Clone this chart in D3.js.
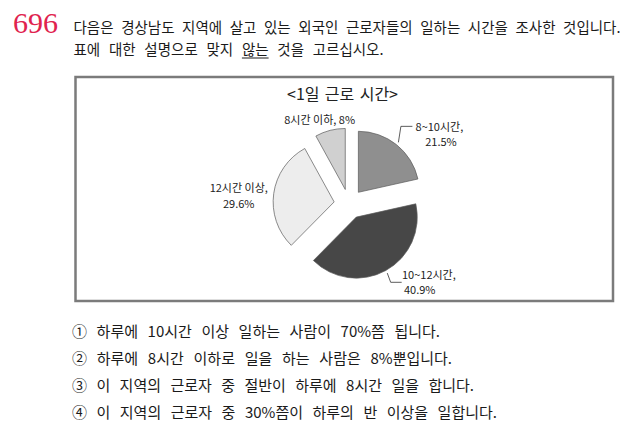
<!DOCTYPE html>
<html>
<head>
<meta charset="utf-8">
<script src="https://cdn.jsdelivr.net/npm/d3@7/dist/d3.min.js"></script>
<style>
  html, body { margin: 0; padding: 0; background: #fff; }
  svg { display: block; }
  text { font-family: "Noto Sans CJK KR", "Noto Sans", sans-serif; fill: #222; }
</style>
</head>
<body>
<script>
// ---------- data ----------
const questionNumber = "696";
const headerLines = [
  "다음은 경상남도 지역에 살고 있는 외국인 근로자들의 일하는 시간을 조사한 것입니다.",
  "표에 대한 설명으로 맞지 않는 것을 고르십시오."
];
const underlinedWord = "않는";
const chartTitle = "<1일 근로 시간>";
const categories = ["8~10시간", "10~12시간", "12시간 이상", "8시간 이하"];
const values = [21.5, 40.9, 29.6, 8];
const sliceColors = ["#8f8f8f", "#474747", "#ededed", "#d0d0d0"];
const options = [
  "① 하루에 10시간 이상 일하는 사람이 70%쯤 됩니다.",
  "② 하루에 8시간 이하로 일을 하는 사람은 8%뿐입니다.",
  "③ 이 지역의 근로자 중 절반이 하루에 8시간 일을 합니다.",
  "④ 이 지역의 근로자 중 30%쯤이 하루의 반 이상을 일합니다."
];

// ---------- layout ----------
const W = 634, H = 436;
const svg = d3.select("body").append("svg").attr("width", W).attr("height", H);
svg.append("rect").attr("width", W).attr("height", H).attr("fill", "#fff");

function fitWidth(sel, target) {
  const node = sel.node();
  const txt = node.textContent;
  const nSpaces = (txt.match(/ /g) || []).length;
  const natural = node.getComputedTextLength();
  if (nSpaces > 0) sel.attr("word-spacing", (target - natural) / nSpaces);
  const got = node.getComputedTextLength();
  if (Math.abs(got - target) > 2) {
    sel.attr("word-spacing", null).attr("textLength", target).attr("lengthAdjust", "spacing");
  }
}

// question number
svg.append("text")
  .attr("x", 13).attr("y", 33.3)
  .style("font-family", "'Liberation Serif', 'DejaVu Serif', serif")
  .style("font-size", "30px")
  .style("fill", "#e0234e")
  .text(questionNumber);

// header lines
const headerY = [33, 54.5];
const headerW = [547, 310];
headerLines.forEach((line, i) => {
  const t = svg.append("text")
    .attr("x", 73.5).attr("y", headerY[i])
    .style("font-size", "14.5px")
    .style("fill", "#1a1a1a")
    .text(line);
  fitWidth(t, headerW[i]);
  const idx = line.indexOf(underlinedWord);
  if (idx >= 0) {
    const n = t.node();
    const a = n.getExtentOfChar(idx);
    const b = n.getExtentOfChar(idx + underlinedWord.length - 1);
    svg.append("line")
      .attr("x1", a.x).attr("x2", b.x + b.width)
      .attr("y1", headerY[i] + 3.5).attr("y2", headerY[i] + 3.5)
      .attr("stroke", "#1a1a1a").attr("stroke-width", 1);
  }
});

// chart box
svg.append("rect")
  .attr("x", 75.5).attr("y", 77).attr("width", 537.5).attr("height", 224)
  .attr("fill", "none").attr("stroke", "#7b7b7b").attr("stroke-width", 2.5);

// chart title
const title = svg.append("text")
  .attr("x", 342.5).attr("y", 99.5)
  .attr("text-anchor", "middle")
  .style("font-size", "16px")
  .text(chartTitle);
fitWidth(title, 111);

// pie
const cx = 349, cy = 204, R = 61, explode = 15;
const pie = d3.pie().sort(null).value(d => d)(values);
const arc = d3.arc().innerRadius(0).outerRadius(R);
const mid = d => (d.startAngle + d.endAngle) / 2;
const dir = d => [Math.sin(mid(d)), -Math.cos(mid(d))];

const g = svg.append("g").attr("transform", `translate(${cx},${cy})`);
g.selectAll("path.slice").data(pie).join("path")
  .attr("class", "slice")
  .attr("transform", d => { const [ux, uy] = dir(d); return `translate(${ux * explode},${uy * explode})`; })
  .attr("d", arc)
  .attr("fill", (d, i) => sliceColors[i])
  .attr("stroke", "#5a5a5a")
  .attr("stroke-width", 0.7);

// labels (offsets relative to a point just outside each slice's arc, at mid-angle)
const labelLayout = [
  { leader: [[2.5, -16], [14, -16]], lines: [{ dx: 41, dy: -11.8, a: "middle" }, { dx: 42.6, dy: 3.3, a: "middle" }] },
  { leader: [[3.4, 9.2], [14.4, 9.2]], lines: [{ dx: 14.7, dy: 6, a: "start" }, { dx: 16.7, dy: 21.2, a: "start" }] },
  { leader: null, lines: [{ dx: -32, dy: -0.8, a: "middle" }, { dx: -32, dy: 14.4, a: "middle" }] },
  { leader: null, single: true, lines: [{ dx: -9.7, dy: -3.5, a: "middle" }] }
];
const labelArc = d3.arc().innerRadius(R + 3).outerRadius(R + 3);

pie.forEach((d, i) => {
  const [ux, uy] = dir(d);
  const c = labelArc.centroid(d);
  const px = c[0] + ux * explode, py = c[1] + uy * explode;
  const L = labelLayout[i];
  if (L.leader) {
    const pts = [[px, py]].concat(L.leader.map(o => [px + o[0], py + o[1]]));
    g.append("path")
      .attr("d", d3.line()(pts))
      .attr("fill", "none").attr("stroke", "#333").attr("stroke-width", 0.8);
  }
  const pct = values[i] + "%";
  const texts = L.single ? [categories[i] + ", " + pct] : [categories[i] + ",", pct];
  const t = g.append("text")
    .style("font-size", "11px")
    .style("fill", "#222");
  texts.forEach((s, k) => {
    t.append("tspan")
      .attr("x", px + L.lines[k].dx).attr("y", py + L.lines[k].dy)
      .attr("text-anchor", L.lines[k].a)
      .text(s);
  });
});

// answer options
const optY = [336.5, 364, 391, 418.3];
const optW = [368, 380, 402, 425];
options.forEach((s, i) => {
  const t = svg.append("text")
    .attr("x", 72).attr("y", optY[i])
    .style("font-size", "15px")
    .style("fill", "#1a1a1a")
    .text(s);
  fitWidth(t, optW[i]);
});
</script>
</body>
</html>
